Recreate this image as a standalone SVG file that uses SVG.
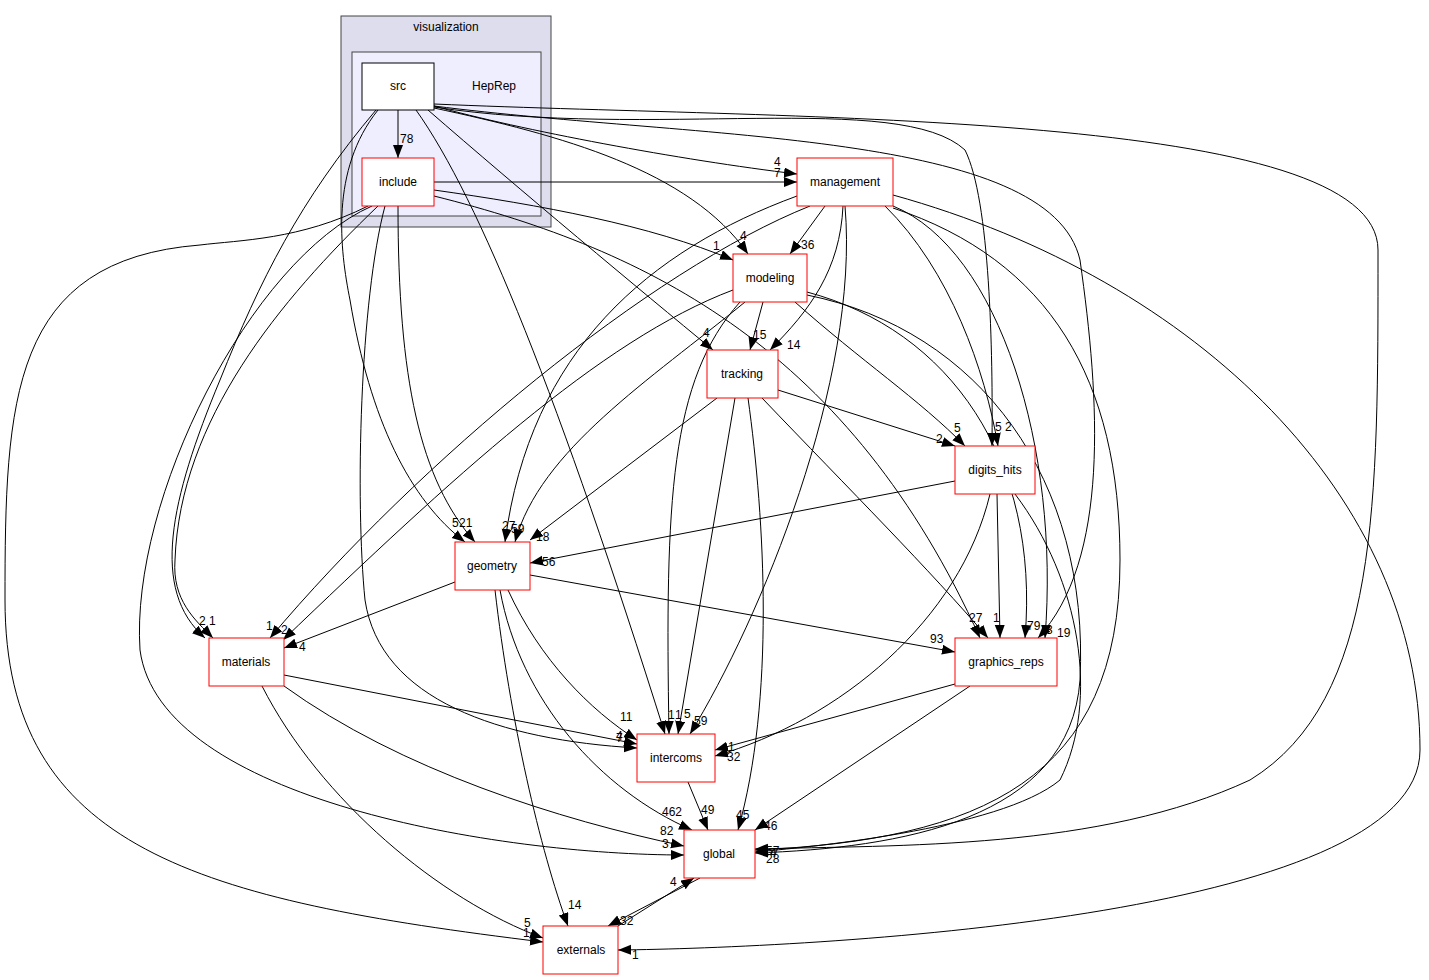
<svg xmlns="http://www.w3.org/2000/svg" width="1429" height="980" viewBox="0 0 1429 980">
<style>
text{font-family:"Liberation Sans",Arial,sans-serif;font-size:12px;fill:#000}
.n rect{fill:#fff;stroke:#ff0000;stroke-width:1}
.n text{text-anchor:middle}
#edges path{fill:none;stroke:#000;stroke-width:1;marker-end:url(#a)}
</style>
<defs>
<marker id="a" markerWidth="14" markerHeight="11" refX="13" refY="5" orient="auto" markerUnits="userSpaceOnUse"><path d="M0,0 L13,5 L0,10 z" fill="#000"/></marker>
</defs>
<rect width="1429" height="980" fill="#fff"/>
<g id="cluster_visualization">
<rect x="341" y="16" width="210" height="211" fill="#ddddee" stroke="#444" stroke-width="1"/>
<text x="446" y="31" text-anchor="middle">visualization</text>
</g>
<g id="cluster_HepRep">
<rect x="352" y="52" width="189" height="164" fill="#eeeeff" stroke="#444" stroke-width="1"/>
<text x="494" y="90" text-anchor="middle">HepRep</text>
</g>
<g id="edges">
<path d="M398,110 V158"/>
<path d="M434,106 C520,130 680,160 797,174"/>
<path d="M434,182 H797"/>
<path d="M434,108 C560,135 690,170 748,254"/>
<path d="M434,190 C540,205 650,225 733,260"/>
<path d="M428,110 C520,190 640,290 713,350"/>
<path d="M416,110 C480,200 560,400 665,734"/>
<path d="M825,206 L790,254"/>
<path d="M763,302 L750,350"/>
<path d="M843,206 C840,270 810,310 770,350"/>
<path d="M434,107 C650,140 900,90 965,150 C990,200 993,350 992,446"/>
<path d="M885,206 C950,270 985,370 998,446"/>
<path d="M795,302 C860,360 920,400 965,446"/>
<path d="M778,390 L955,446"/>
<path d="M378,110 C330,170 340,250 350,300 C370,420 410,500 465,542"/>
<path d="M398,206 C398,380 420,480 475,542"/>
<path d="M797,196 C650,250 530,350 505,542"/>
<path d="M745,302 C650,380 540,450 515,542"/>
<path d="M717,398 L530,540"/>
<path d="M955,481 L530,563"/>
<path d="M376,110 C300,200 260,280 220,380 C170,500 150,590 205,638"/>
<path d="M378,206 C280,300 180,420 175,560 C172,600 195,620 213,638"/>
<path d="M810,206 C650,270 420,460 270,638"/>
<path d="M733,290 C600,340 450,480 283,640"/>
<path d="M455,582 L284,648"/>
<path d="M385,206 C360,300 355,500 365,600 C380,700 500,740 637,748"/>
<path d="M284,675 L637,744"/>
<path d="M508,590 C540,660 590,710 637,740"/>
<path d="M740,302 C670,380 665,500 669,734"/>
<path d="M735,398 L678,734"/>
<path d="M845,206 C860,380 760,620 690,734"/>
<path d="M990,494 C960,620 840,720 715,756"/>
<path d="M955,684 L715,750"/>
<path d="M530,575 L955,652"/>
<path d="M762,398 C850,490 930,570 988,638"/>
<path d="M434,196 C650,250 850,350 980,638"/>
<path d="M997,494 L1000,638"/>
<path d="M807,292 C950,330 1040,460 1025,638"/>
<path d="M434,106 C700,140 1050,130 1080,260 C1100,400 1110,560 1038,638"/>
<path d="M893,206 C1000,250 1060,450 1045,638"/>
<path d="M500,590 C520,700 600,790 692,830"/>
<path d="M284,686 C400,770 560,820 684,846"/>
<path d="M372,206 C250,260 130,500 140,650 C160,800 500,855 684,855"/>
<path d="M688,782 L708,830"/>
<path d="M748,398 C765,520 775,700 738,830"/>
<path d="M970,686 L755,830"/>
<path d="M1015,494 C1080,580 1100,700 1060,780 C1000,830 800,848 755,852"/>
<path d="M893,208 C1050,260 1120,380 1120,560 C1120,780 980,840 755,850"/>
<path d="M807,295 C980,330 1090,480 1080,680 C1070,820 900,848 755,853"/>
<path d="M434,104 C800,120 1378,110 1378,250 C1378,500 1380,700 1250,780 C1100,850 900,845 755,849"/>
<path d="M495,590 C510,720 540,850 568,926"/>
<path d="M262,686 C320,800 440,900 543,938"/>
<path d="M368,206 C300,240 240,240 200,245 C10,260 5,400 5,600 C5,850 200,900 543,942"/>
<path d="M700,878 L608,926"/>
<path d="M618,926 L694,878"/>
<path d="M893,195 C1200,280 1420,500 1420,750 C1420,920 800,948 618,950"/>
</g>
<g id="labels">
<text x="400" y="143">78</text>
<text x="774" y="166">4</text>
<text x="774" y="177">7</text>
<text x="740" y="240">4</text>
<text x="713" y="250">1</text>
<text x="801" y="249">36</text>
<text x="703" y="337">4</text>
<text x="753" y="339">15</text>
<text x="787" y="349">14</text>
<text x="995" y="431">5</text>
<text x="1005" y="431">2</text>
<text x="954" y="432">5</text>
<text x="936" y="443">2</text>
<text x="452" y="527">5</text>
<text x="459" y="527">21</text>
<text x="502" y="530">27</text>
<text x="511" y="533">59</text>
<text x="536" y="541">18</text>
<text x="542" y="566">56</text>
<text x="199" y="625">2</text>
<text x="209" y="625">1</text>
<text x="266" y="630">1</text>
<text x="281" y="634">2</text>
<text x="299" y="651">4</text>
<text x="620" y="721">11</text>
<text x="616" y="740">4</text>
<text x="616" y="742">7</text>
<text x="668" y="719">1</text>
<text x="675" y="719">1</text>
<text x="684" y="718">5</text>
<text x="694" y="725">59</text>
<text x="728" y="751">1</text>
<text x="727" y="761">32</text>
<text x="930" y="643">93</text>
<text x="969" y="622">27</text>
<text x="993" y="622">1</text>
<text x="1004" y="652">16</text>
<text x="1027" y="630">79</text>
<text x="1046" y="634">3</text>
<text x="1057" y="637">19</text>
<text x="662" y="816">462</text>
<text x="660" y="835">82</text>
<text x="662" y="848">3</text>
<text x="701" y="814">49</text>
<text x="736" y="819">45</text>
<text x="764" y="830">46</text>
<text x="766" y="855">57</text>
<text x="770" y="857">4</text>
<text x="766" y="863">28</text>
<text x="568" y="909">14</text>
<text x="524" y="927">5</text>
<text x="523" y="937">1</text>
<text x="620" y="925">32</text>
<text x="670" y="886">4</text>
<text x="632" y="959">1</text>
</g>
<g id="node_src" class="n"><rect x="362" y="63" width="72" height="47" style="stroke:#000"/><text x="398" y="90">src</text></g>
<g id="node_include" class="n"><rect x="362" y="158" width="72" height="48"/><text x="398" y="186">include</text></g>
<g id="node_management" class="n"><rect x="797" y="158" width="96" height="48"/><text x="845" y="186">management</text></g>
<g id="node_modeling" class="n"><rect x="733" y="254" width="74" height="48"/><text x="770" y="282">modeling</text></g>
<g id="node_tracking" class="n"><rect x="707" y="350" width="71" height="48"/><text x="742" y="378">tracking</text></g>
<g id="node_digits_hits" class="n"><rect x="955" y="446" width="80" height="48"/><text x="995" y="474">digits_hits</text></g>
<g id="node_geometry" class="n"><rect x="455" y="542" width="75" height="48"/><text x="492" y="570">geometry</text></g>
<g id="node_materials" class="n"><rect x="209" y="638" width="75" height="48"/><text x="246" y="666">materials</text></g>
<g id="node_graphics_reps" class="n"><rect x="955" y="638" width="102" height="48"/><text x="1006" y="666">graphics_reps</text></g>
<g id="node_intercoms" class="n"><rect x="637" y="734" width="78" height="48"/><text x="676" y="762">intercoms</text></g>
<g id="node_global" class="n"><rect x="684" y="830" width="71" height="48"/><text x="719" y="858">global</text></g>
<g id="node_externals" class="n"><rect x="543" y="926" width="75" height="48"/><text x="581" y="954">externals</text></g>
</svg>
